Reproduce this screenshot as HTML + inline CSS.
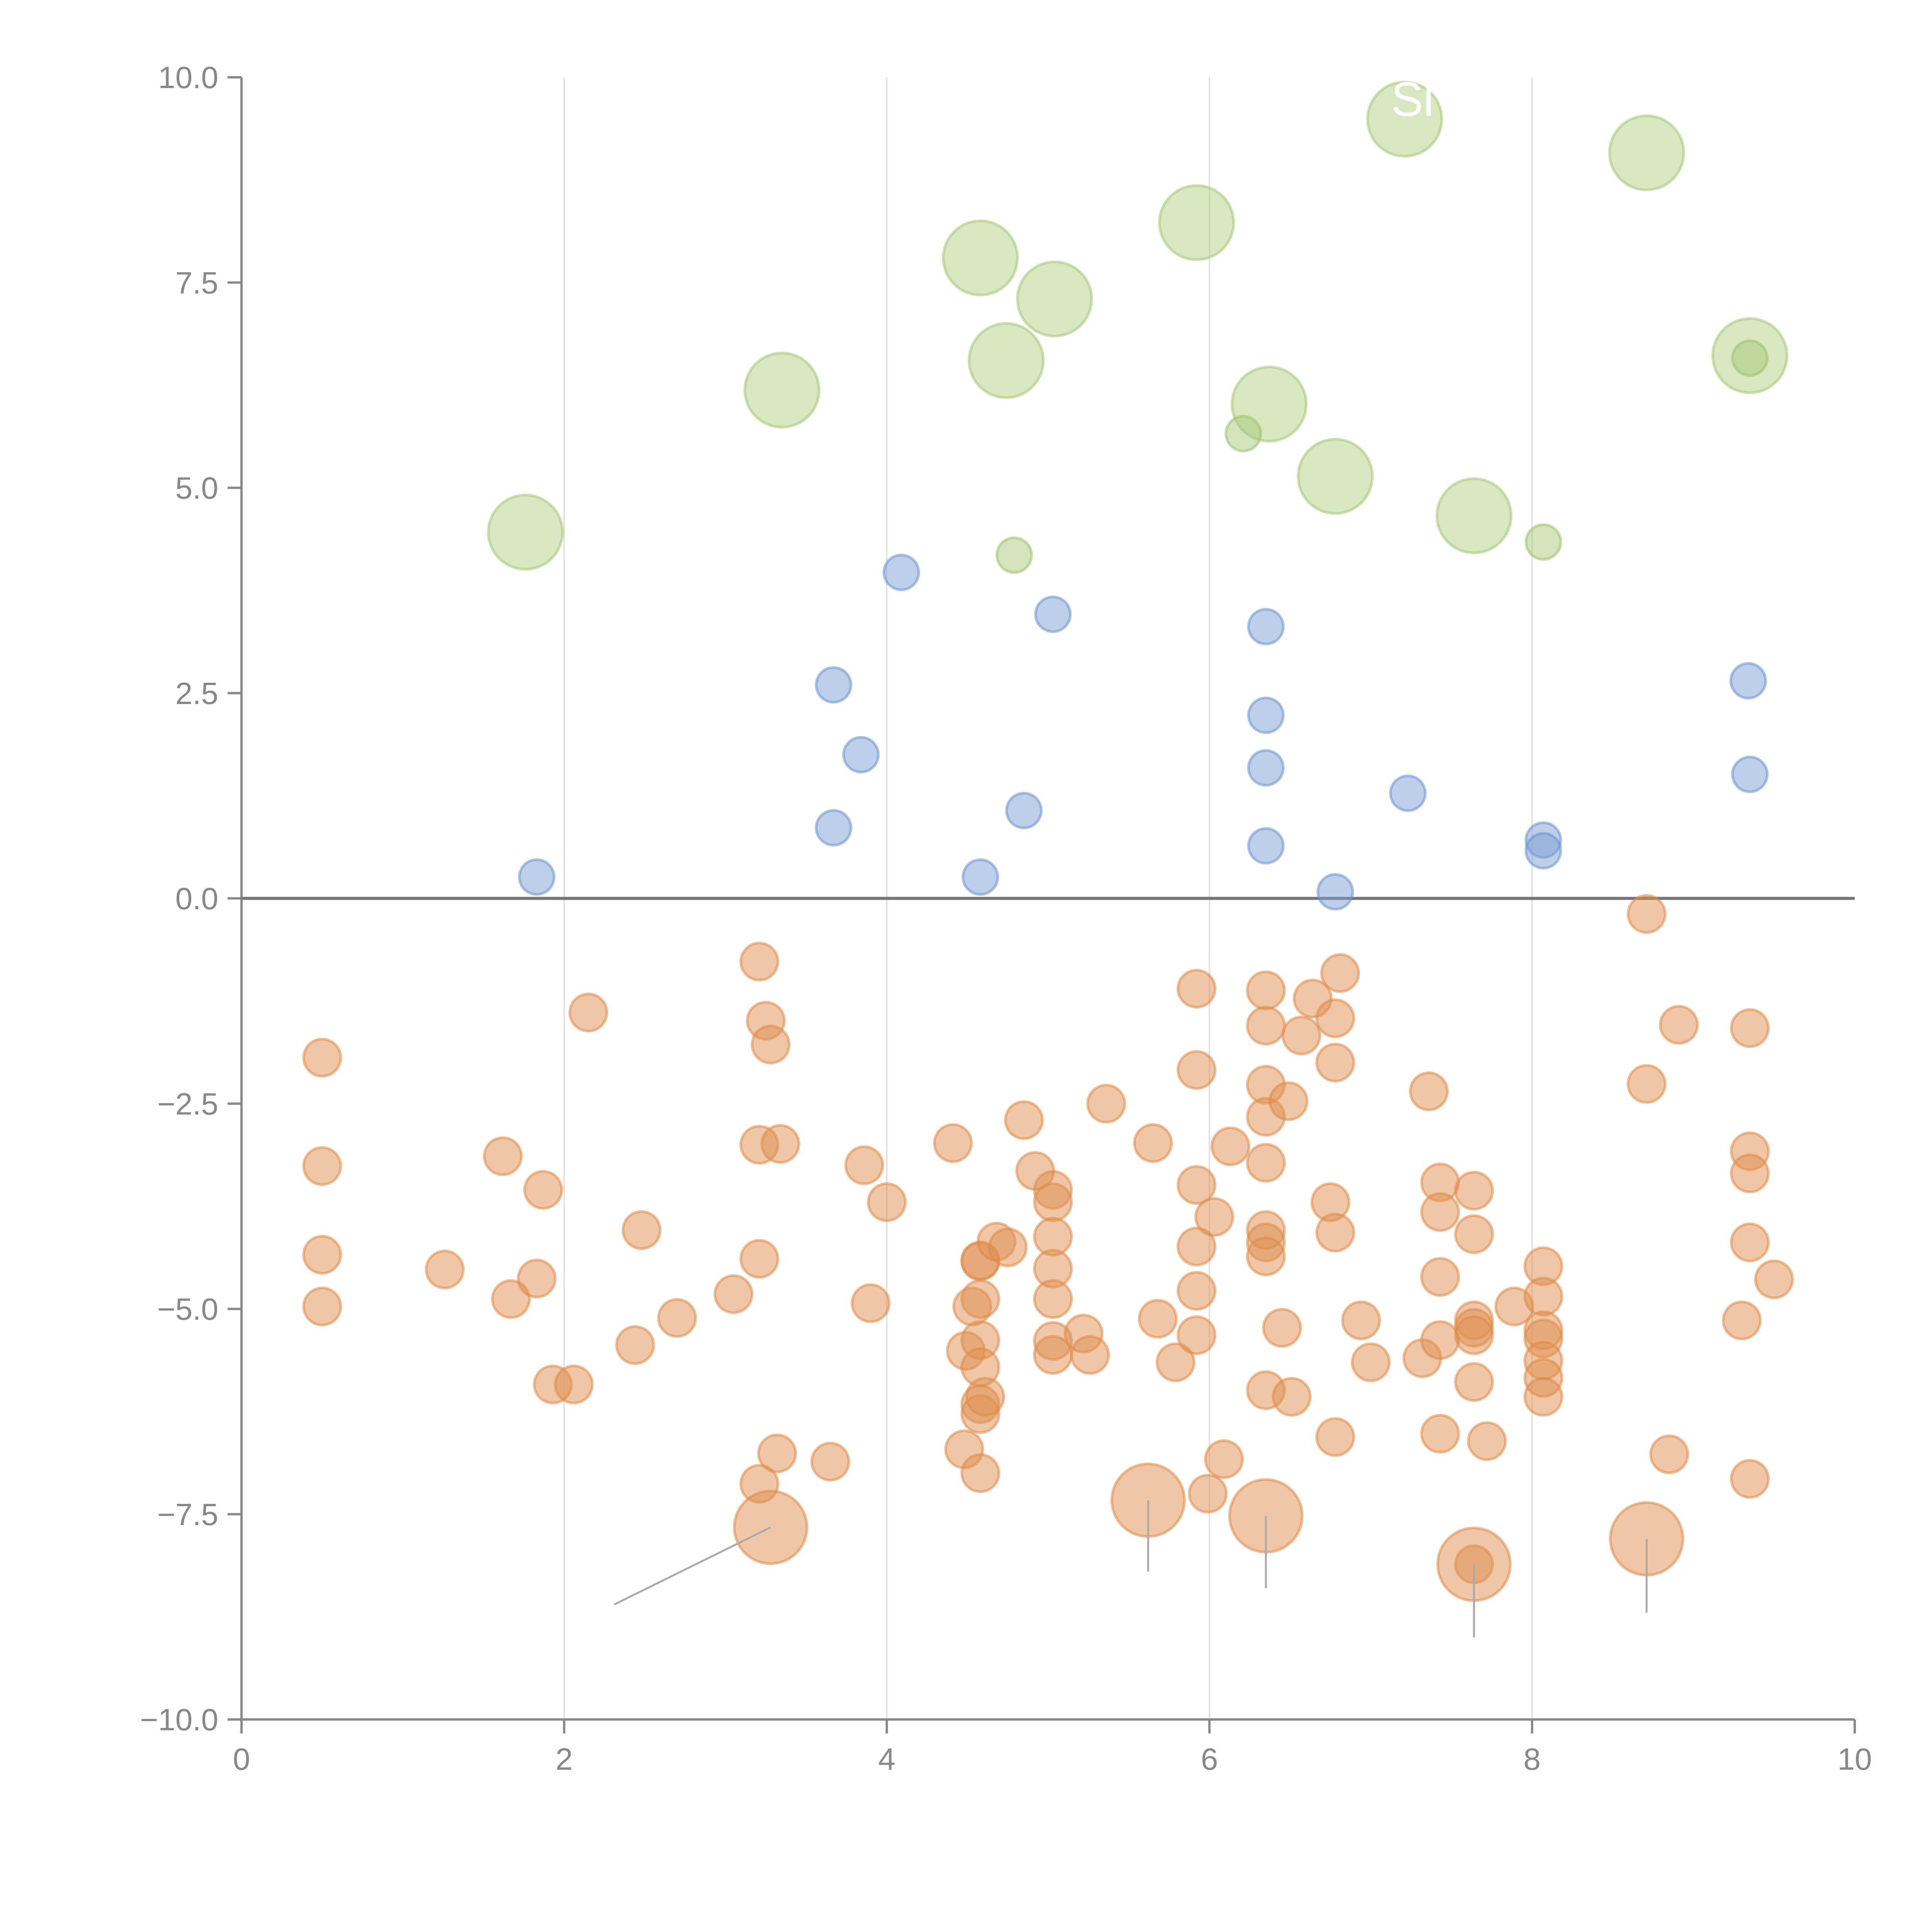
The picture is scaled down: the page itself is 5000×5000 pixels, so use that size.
<!DOCTYPE html>
<html><head><meta charset="utf-8"><style>
html,body{margin:0;padding:0;background:#fff;}
svg{display:block;}
text{font-family:"Liberation Sans",sans-serif;}
</style></head>
<body>
<svg id="chart" xmlns="http://www.w3.org/2000/svg" width="5000" height="5000" viewBox="0 0 5000 5000">
<g id="grid"></g>
<g id="axes"></g>
<g id="marks"></g>
<text x="3600" y="300" font-size="125" fill="#fff">Sl</text>
</svg>
<script>
// ---- data ----
const xTicks=[0,2,4,6,8,10];
const yTicks=[-10,-7.5,-5,-2.5,0,2.5,5,7.5,10];
const yTickLabels=["−10.0","−7.5","−5.0","−2.5","0.0","2.5","5.0","7.5","10.0"];
const greenBigX=[1.76,3.35,4.58,4.74,5.04,5.92,6.37,6.78,7.21,7.64,8.71,9.35];
const greenBigY=[4.46,6.19,7.80,6.55,7.30,8.23,6.02,5.14,9.49,4.66,9.08,6.61];
const greenSmallX=[4.79,6.21,8.07,9.35];
const greenSmallY=[4.18,5.66,4.34,6.58];
const blueX=[1.83,3.67,3.84,3.67,4.09,4.58,4.85,5.03,6.35,6.35,6.35,6.35,6.78,7.23,8.07,8.07,9.34,9.35];
const blueY=[0.26,2.60,1.75,0.86,3.97,0.26,1.07,3.46,3.31,2.23,1.59,0.64,0.08,1.28,0.71,0.58,2.65,1.51];
const orangeBigX=[3.28,5.62,6.35,7.64,8.71];
const orangeBigY=[-7.66,-7.33,-7.52,-8.11,-7.80];
const leaderEndX=[2.31,5.62,6.35,7.64,8.71];
const leaderEndY=[-8.6,-8.2,-8.4,-9.0,-8.7];
const orangeX=[0.50,0.50,0.50,0.50,1.26,1.62,1.67,1.83,1.87,1.93,2.06,2.15,2.44,2.48,2.70,3.05,
3.21,3.25,3.28,3.21,3.34,3.21,3.32,3.21,3.65,3.86,3.90,4.00,
4.41,4.48,4.49,4.53,4.58,4.58,4.58,4.58,4.58,4.58,4.58,4.61,4.58,4.68,4.75,
4.85,4.92,5.03,5.03,5.03,5.03,5.03,5.03,5.03,5.22,5.26,5.36,
5.65,5.68,5.79,5.92,5.92,5.92,5.92,5.92,5.92,6.03,5.99,6.09,6.13,
6.35,6.35,6.35,6.35,6.35,6.35,6.35,6.35,6.35,6.45,6.49,6.51,6.57,6.64,6.81,6.78,6.78,6.75,6.78,6.78,6.94,7.00,
7.36,7.32,7.43,7.43,7.43,7.43,7.43,7.64,7.64,7.64,7.64,7.64,7.64,7.72,7.89,
8.07,8.07,8.07,8.07,8.07,8.07,8.07,
8.71,8.71,8.91,8.85,
9.35,9.35,9.35,9.35,9.30,9.50,9.35,7.64];
const orangeY=[-1.94,-3.26,-4.34,-4.97,-4.52,-3.14,-4.88,-4.63,-3.55,-5.92,-5.92,-1.39,-5.44,-4.04,-5.11,-4.82,
-0.77,-1.49,-1.78,-3.00,-2.99,-4.39,-6.76,-7.13,-6.86,-3.25,-4.93,-3.70,
-2.98,-6.71,-5.51,-4.97,-4.42,-4.41,-4.88,-5.38,-5.71,-6.16,-6.28,-6.07,-7.00,-4.18,-4.25,
-2.70,-3.32,-3.55,-3.70,-4.12,-4.51,-4.88,-5.39,-5.56,-5.30,-5.56,-2.50,
-2.98,-5.12,-5.65,-1.10,-2.09,-3.49,-4.24,-4.78,-5.32,-3.88,-7.25,-6.83,-3.02,
-1.12,-1.55,-2.27,-2.66,-3.22,-4.04,-4.19,-4.36,-5.99,-5.23,-2.47,-6.07,-1.67,-1.22,-0.91,-1.46,-2.00,-3.70,-4.07,-6.56,-5.14,-5.65,
-2.35,-5.60,-3.46,-3.82,-4.61,-5.38,-6.52,-3.56,-4.09,-5.14,-5.23,-5.32,-5.89,-6.61,-4.97,
-4.48,-4.85,-5.26,-5.36,-5.63,-5.84,-6.07,
-0.19,-2.26,-1.54,-6.77,
-1.58,-3.08,-3.35,-4.19,-5.14,-4.64,-7.07,-8.11];
// ---- scales ----
const X0=625,X1=4800,YT=200,YB=4450;
function sx(v){return X0+(v-0)/(10-0)*(X1-X0);}
function sy(v){return YB-(v+10)/20*(YB-YT);}
const NS="http://www.w3.org/2000/svg";
function mk(tag,attrs,parent){const e=document.createElementNS(NS,tag);for(const k in attrs)e.setAttribute(k,attrs[k]);parent.appendChild(e);return e;}
const grid=document.getElementById('grid'),axes=document.getElementById('axes'),marks=document.getElementById('marks');
// grid
xTicks.forEach(t=>{if(t===0||t===10)return;
 const l=mk('line',{x1:sx(t),x2:sx(t),y1:YT,y2:YB,stroke:'#e2e2e2','stroke-width':4},grid);
 
 });
// axes
let a=mk('line',{x1:X0,x2:X0,y1:YT,y2:YB,stroke:'#888','stroke-width':6},axes);


a=mk('line',{x1:X0,x2:X1,y1:YB,y2:YB,stroke:'#888','stroke-width':6},axes);


yTicks.forEach((t,i)=>{
 const tk=mk('line',{x1:X0-36,x2:X0,y1:sy(t),y2:sy(t),stroke:'#888','stroke-width':6},axes);
 
 
 const tx=mk('text',{x:X0-60,y:sy(t)+28,'font-size':80,fill:'#888','text-anchor':'end'},axes);
 tx.textContent=yTickLabels[i];
 
 });
xTicks.forEach(t=>{
 const tk=mk('line',{x1:sx(t),x2:sx(t),y1:YB,y2:YB+36,stroke:'#888','stroke-width':6},axes);
 
 
 const tx=mk('text',{x:sx(t),y:YB+130,'font-size':80,fill:'#888','text-anchor':'middle'},axes);
 tx.textContent=String(t);
 
 });
const z=mk('line',{x1:X0,x2:X1,y1:sy(0),y2:sy(0),stroke:'#777','stroke-width':8},axes);


// marks
function dots(xs,ys,r,fill,stroke,name){xs.forEach((x,i)=>{
 const c=mk('circle',{cx:sx(x),cy:sy(ys[i]),r:r,fill:fill,'fill-opacity':0.5,stroke:stroke,'stroke-opacity':0.55,'stroke-width':7},marks);
 
 });}
dots(orangeX,orangeY,48,'#e0904f','#de8a48','orange-point');
dots(orangeBigX,orangeBigY,94,'#e0904f','#de8a48','orange-bubble');
orangeBigX.forEach((x,i)=>{
 const l=mk('line',{x1:sx(x),y1:sy(orangeBigY[i]),x2:sx(leaderEndX[i]),y2:sy(leaderEndY[i]),stroke:'#aaa','stroke-width':5},marks);
 
 });
dots(blueX,blueY,45,'#7b9fd4','#6d93cd','blue-point');
dots(greenBigX,greenBigY,96,'#b2cd84','#a6c676','green-bubble');
dots(greenSmallX,greenSmallY,45,'#a8c778','#9fc16b','green-point');
</script>
</body></html>
